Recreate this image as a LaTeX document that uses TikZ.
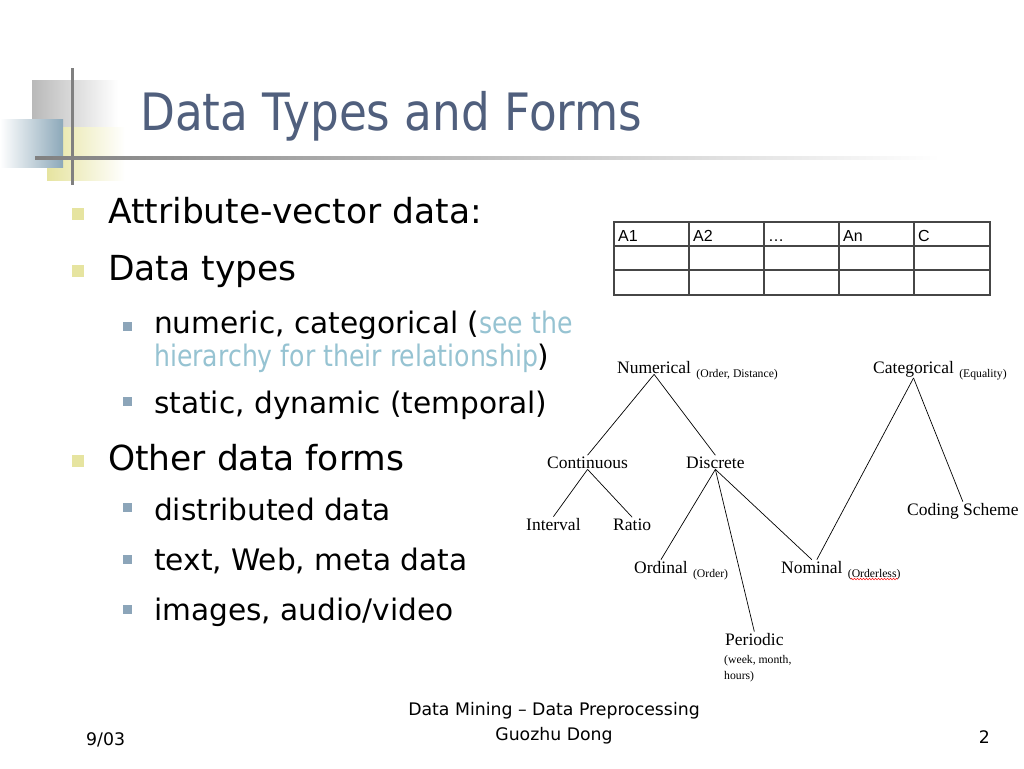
\documentclass[tikz,border=0pt]{standalone}
\usepackage{fontspec}
\setmainfont{Liberation Serif}
\newfontfamily\tahoma{DejaVu Sans}
\newfontfamily\tahomanarrow{DejaVu Sans}[FakeStretch=0.88]
\newfontfamily\tahomalink{DejaVu Sans}[FakeStretch=0.85]
\newfontfamily\arialfont{Liberation Sans}
\usetikzlibrary{positioning,decorations.pathmorphing}

\definecolor{titleblue}{RGB}{80,95,125}
\definecolor{linkteal}{RGB}{150,195,210}
\definecolor{bulyellow}{RGB}{230,228,160}
\definecolor{bulblue}{RGB}{140,165,185}
\definecolor{decogray}{RGB}{128,128,128}
\definecolor{decoblue}{RGB}{140,168,185}
\definecolor{tablegray}{RGB}{70,70,70}

\newcommand{\linktext}[1]{{\tahomalink\textcolor{linkteal}{#1}}}

\tikzset{
    title/.style={anchor=base west, inner sep=0pt, text=titleblue, font=\tahomanarrow\fontsize{51.5}{56}\selectfont},
    levelone/.style={anchor=base west, inner sep=0pt, font=\tahoma\fontsize{34.5}{40}\selectfont},
    leveltwo/.style={anchor=base west, inner sep=0pt, font=\tahoma\fontsize{29.6}{34}\selectfont},
    footer/.style={anchor=base, inner sep=0pt, font=\tahoma\fontsize{17.3}{20}\selectfont},
    cell/.style={anchor=base west, inner sep=0pt, font=\arialfont\fontsize{16}{18}\selectfont},
    kind/.style={anchor=base west, inner sep=1pt, font=\fontsize{17.5}{20}\selectfont},
    note/.style={anchor=base west, inner sep=0pt, font=\fontsize{11.7}{16}\selectfont},
    branch/.style={line width=0.7pt},
}

\begin{document}
\begin{tikzpicture}[x=1pt, y=-1pt]
    \useasboundingbox[fill=white] (0, 0) rectangle (1024, 768);

    % corner decoration
    \shade[left color=gray!55, right color=white] (32, 80) rectangle (118, 127);
    \shade[left color=bulyellow, right color=white] (47, 127) rectangle (125, 180);
    \shade[left color=white, right color=decoblue] (0, 119) rectangle (63, 167);
    \draw[decogray, line width=3pt] (72, 68) -- (72, 185);
    \shade[left color=decogray, right color=white] (35, 156.5) rectangle (940, 159.5);

    \node[title] (ttl) at (140, 130) {Data Types and Forms};

    % bullets
    \fill[bulyellow] (72, 208) rectangle (84, 220);
    \fill[bulyellow] (72, 265) rectangle (84, 277);
    \fill[bulyellow] (72, 455) rectangle (84, 467);
    \fill[bulblue] (123, 322) rectangle (132, 331);
    \fill[bulblue] (123, 397) rectangle (132, 406);
    \fill[bulblue] (123, 503) rectangle (132, 512);
    \fill[bulblue] (123, 555) rectangle (132, 564);
    \fill[bulblue] (123, 605) rectangle (132, 614);

    \node[levelone] (attr) at (108, 223) {Attribute-vector data:};
    \node[levelone] (types) at (108, 280) {Data types};
    \node[leveltwo] (numcat) at (154, 333) {numeric, categorical (\linktext{see the}};
    \node[leveltwo] (hier) at (154, 366) {\linktext{hierarchy for their relationship})};
    \node[leveltwo] (stat) at (154, 413) {static, dynamic (temporal)};
    \node[levelone] (forms) at (108, 470) {Other data forms};
    \node[leveltwo] (dist) at (154, 520) {distributed data};
    \node[leveltwo] (web) at (154, 570) {text, Web, meta data};
    \node[leveltwo] (img) at (154, 620) {images, audio/video};

    % attribute table
    \draw[tablegray, line width=1.3pt] (614, 222) rectangle (990, 295);
    \foreach \x in {689, 764, 839, 914}
        \draw[tablegray, line width=1.3pt] (\x, 222) -- (\x, 295);
    \foreach \y in {246, 270}
        \draw[tablegray, line width=1.3pt] (614, \y) -- (990, \y);
    \node[cell] (ca1) at (618, 241) {A1};
    \node[cell] (ca2) at (693, 241) {A2};
    \node[cell] (cdots) at (768, 241) {\dots};
    \node[cell] (can) at (843, 241) {An};
    \node[cell] (cc) at (918, 241) {C};

    % type hierarchy
    \node[kind] (num) at (616, 373) {Numerical};
    \node[note] (numlbl) at ([xshift=4pt, yshift=-4pt]num.base east) {(Order, Distance)};
    \node[kind] (cat) at (872, 373) {Categorical};
    \node[note] (catlbl) at ([xshift=4pt, yshift=-4pt]cat.base east) {(Equality)};
    \node[kind] (cont) at (546, 468) {Continuous};
    \node[kind] (disc) at (685, 468) {Discrete};
    \node[kind] (intv) at (525, 530) {Interval};
    \node[kind] (ratio) at (612, 530) {Ratio};
    \node[kind] (code) at (906, 515) {Coding Scheme};
    \node[kind] (ord) at (633, 573) {Ordinal};
    \node[note] (ordlbl) at ([xshift=4pt, yshift=-4pt]ord.base east) {(Order)};
    \node[kind] (nom) at (780, 573) {Nominal};
    \node[note] (nomlbl) at ([xshift=4pt, yshift=-4pt]nom.base east) {(Orderless)};
    \node[kind] (per) at (724, 645) {Periodic};
    \node[note, anchor=north west, align=left] (perlbl) at (724, 655) {(week, month,\\hours)};

    \draw[red, line width=0.5pt, decorate, decoration={snake, amplitude=0.8pt, segment length=3pt}]
        ([xshift=3pt, yshift=-2pt]nomlbl.base west) -- ([xshift=-3pt, yshift=-2pt]nomlbl.base east);

    \draw[branch] (num.south) -- (cont.north);
    \draw[branch] (num.south) -- (disc.north);
    \draw[branch] (cont.south) -- (intv.north);
    \draw[branch] (cont.south) -- (ratio.north);
    \draw[branch] (disc.south) -- (ord.north);
    \draw[branch] (disc.south) -- (per.north);
    \draw[branch] (disc.south) -- (nom.north);
    \draw[branch] (cat.south) -- ([xshift=5pt]nom.north);
    \draw[branch] (cat.south) -- (code.north);

    % footer
    \node[footer, anchor=base west] (date) at (86, 745) {9/03};
    \node[footer] (course) at (554, 715) {Data Mining – Data Preprocessing};
    \node[footer] (author) at (554, 740) {Guozhu Dong};
    \node[footer, anchor=base east] (page) at (990, 743) {2};
\end{tikzpicture}
\end{document}
